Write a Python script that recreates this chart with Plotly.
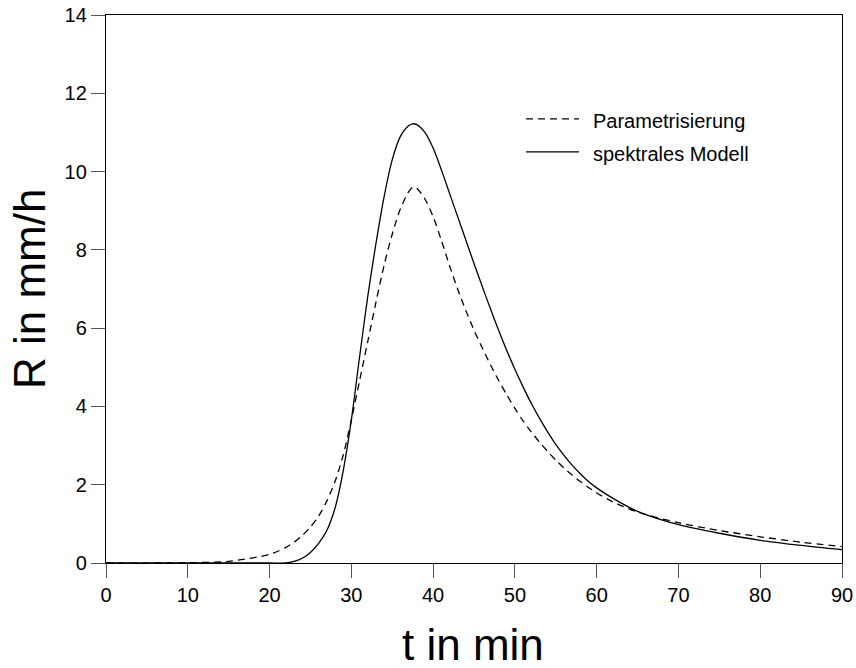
import plotly.graph_objects as go

# spektrales Modell (solid)
t_spec = [0, 10, 20, 22, 23, 24, 25, 26, 27, 28, 29, 30, 31, 32, 33, 34, 35, 36, 37, 37.5,
          38, 39, 40, 41, 42, 43, 44, 45, 46, 47, 48, 49, 50, 51, 52, 53, 54, 55, 56, 57,
          58, 59, 60, 62, 65, 70, 75, 80, 85, 90]
r_spec = [0, 0, 0, 0.0, 0.04, 0.12, 0.27, 0.5, 0.83, 1.4, 2.35, 3.65, 5.25, 6.8, 8.15, 9.35,
          10.3, 10.9, 11.17, 11.22, 11.2, 11.0, 10.6, 10.05, 9.45, 8.85, 8.25, 7.65, 7.07,
          6.5, 5.95, 5.43, 4.95, 4.5, 4.08, 3.7, 3.35, 3.03, 2.75, 2.5, 2.28, 2.08, 1.92,
          1.65, 1.32, 0.98, 0.76, 0.58, 0.45, 0.34]

# Parametrisierung (dashed)
t_par = [0, 10, 15, 17, 19, 20, 21, 22, 23, 24, 25, 26, 27, 28, 29, 30, 31, 32, 33, 34, 35,
         36, 37, 37.5, 38, 39, 40, 41, 42, 43, 44, 45, 46, 47, 48, 49, 50, 51, 52, 53, 54,
         55, 56, 57, 58, 59, 60, 62, 65, 70, 75, 80, 85, 90]
r_par = [0, 0.005, 0.04, 0.1, 0.17, 0.22, 0.3, 0.4, 0.53, 0.7, 0.92, 1.2, 1.58, 2.08, 2.75,
         3.65, 4.65, 5.65, 6.65, 7.6, 8.4, 9.05, 9.48, 9.6, 9.57, 9.3, 8.85, 8.25, 7.6, 7.0,
         6.45, 5.95, 5.5, 5.07, 4.67, 4.3, 3.95, 3.63, 3.35, 3.09, 2.85, 2.63, 2.43, 2.25,
         2.08, 1.93, 1.79, 1.56, 1.3, 1.03, 0.83, 0.67, 0.53, 0.42]

x_ticks = [0, 10, 20, 30, 40, 50, 60, 70, 80, 90]
y_ticks = [0, 2, 4, 6, 8, 10, 12, 14]

FONT = "Liberation Sans, Arial, sans-serif"

fig = go.Figure()
fig.add_trace(go.Scatter(x=t_par, y=r_par, mode="lines", name="Parametrisierung",
                         line=dict(color="black", width=1.3, dash="7px,5px", shape="spline",
                                   smoothing=0.8),
                         showlegend=False))
fig.add_trace(go.Scatter(x=t_spec, y=r_spec, mode="lines", name="spektrales Modell",
                         line=dict(color="black", width=1.3, shape="spline", smoothing=0.8),
                         showlegend=False))

# manual legend
fig.add_shape(type="line", xref="paper", yref="paper", x0=0.5707, x1=0.6427, y0=0.8104, y1=0.8104,
              line=dict(color="black", width=1.2, dash="7px,5px"))
fig.add_shape(type="line", xref="paper", yref="paper", x0=0.5707, x1=0.6427, y0=0.7502, y1=0.7502,
              line=dict(color="black", width=1.2))
fig.add_annotation(xref="paper", yref="paper", x=0.659, y=0.8067, xanchor="left", yanchor="middle",
                   text="Parametrisierung", showarrow=False, font=dict(size=20, color="black", family=FONT))
fig.add_annotation(xref="paper", yref="paper", x=0.659, y=0.7466, xanchor="left", yanchor="middle",
                   text="spektrales Modell", showarrow=False, font=dict(size=20, color="black", family=FONT))

# axis titles
fig.add_annotation(xref="paper", yref="paper", x=-0.1046, y=0.5, xanchor="center", yanchor="middle",
                   text="R in mm/h", textangle=-90, showarrow=False,
                   font=dict(size=44, color="black", family=FONT))
fig.add_annotation(xref="paper", yref="paper", x=0.4986, y=-0.149, xanchor="center", yanchor="middle",
                   text="t in min", showarrow=False,
                   font=dict(size=44, color="black", family=FONT))

fig.update_layout(
    width=856, height=668,
    margin=dict(l=106, r=14, t=15, b=105, autoexpand=False),
    paper_bgcolor="white", plot_bgcolor="white",
    font=dict(family=FONT, size=20, color="black"),
    showlegend=False,
)
fig.update_xaxes(range=[0, 90], tickvals=x_ticks, ticks="outside", ticklen=14, tickwidth=1.3,
                 tickcolor="#555", showline=True, linecolor="black", linewidth=1.3, mirror=True,
                 showgrid=False, zeroline=False, tickfont=dict(size=20), automargin=False)
fig.update_yaxes(range=[0, 14], tickvals=y_ticks, ticks="outside", ticklen=14, tickwidth=1.3,
                 tickcolor="#555", showline=True, linecolor="black", linewidth=1.3, mirror=True,
                 showgrid=False, zeroline=False, tickfont=dict(size=20), automargin=False)

fig.write_html("out.html")
